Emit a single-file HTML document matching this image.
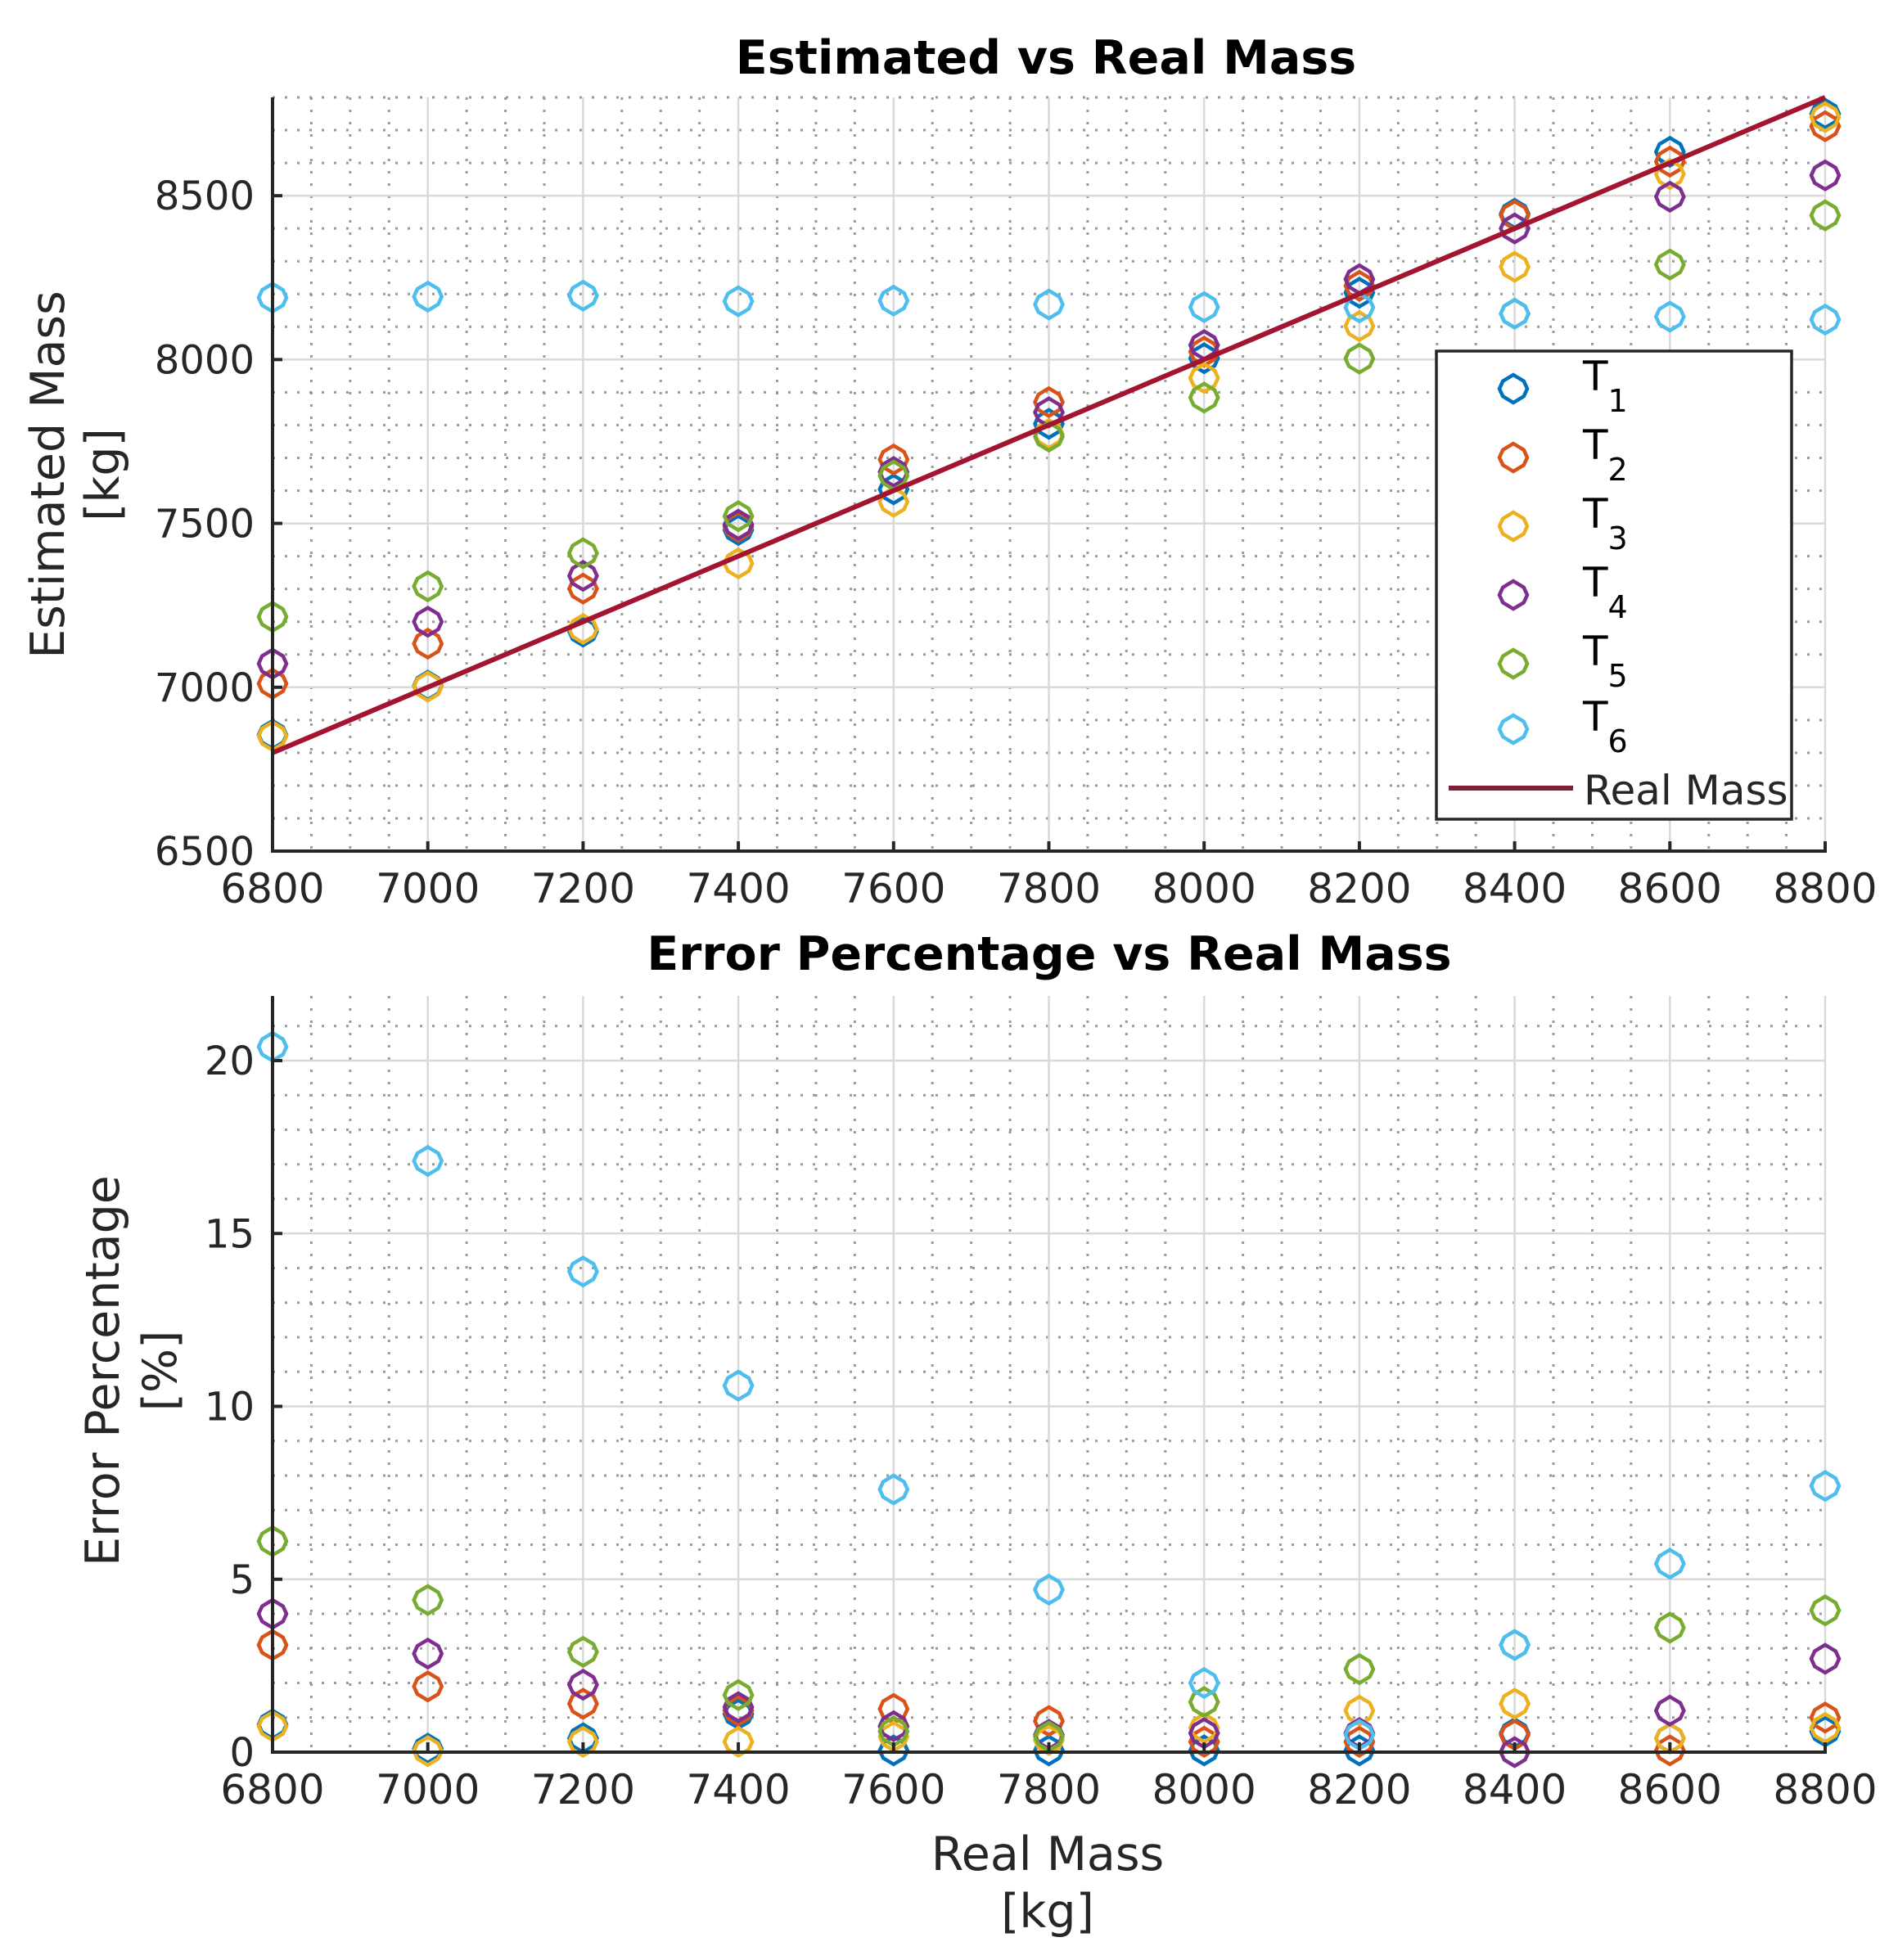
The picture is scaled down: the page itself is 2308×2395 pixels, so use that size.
<!DOCTYPE html>
<html><head><meta charset="utf-8"><style>
html,body{margin:0;padding:0;background:#fff;}
svg{display:block;font-family:"DejaVu Sans","Liberation Sans",sans-serif;}
</style></head><body>
<svg id="c" width="2308" height="2395" viewBox="0 0 2308 2395" xmlns="http://www.w3.org/2000/svg"></svg>
<script>
const masses = [6800,7000,7200,7400,7600,7800,8000,8200,8400,8600,8800];
const seriesNames = ["T1","T2","T3","T4","T5","T6"];
const est1 = [6855,7005,7170,7480,7604,7804,8004,8204,8445,8634,8750];
const est2 = [7011,7133,7301,7490,7695,7870,8024,8225,8440,8604,8712];
const est3 = [6851,7002,7178,7378,7566,7773,7944,8102,8283,8566,8740];
const est4 = [7072,7200,7340,7496,7657,7839,8044,8245,8400,8497,8562];
const est5 = [7215,7308,7409,7522,7646,7765,7884,8003,8140,8290,8440];
const est6 = [8189,8192,8195,8178,8180,8168,8160,8159,8140,8131,8122];
const err1 = [0.8,0.1,0.4,1.1,0.05,0.05,0.05,0.05,0.55,0.4,0.6];
const err2 = [3.1,1.9,1.4,1.2,1.25,0.9,0.3,0.3,0.5,0.05,1.0];
const err3 = [0.75,0.03,0.3,0.3,0.45,0.35,0.7,1.2,1.4,0.4,0.7];
const err4 = [4.0,2.85,1.95,1.3,0.75,0.5,0.55,0.55,0.0,1.2,2.7];
const err5 = [6.1,4.4,2.9,1.65,0.6,0.45,1.45,2.4,3.1,3.6,4.1];
const err6 = [20.4,17.1,13.9,10.6,7.6,4.7,2.0,0.5,3.1,5.45,7.7];
const xTicks = [6800,7000,7200,7400,7600,7800,8000,8200,8400,8600,8800];
const yTicksTop = [6500,7000,7500,8000,8500];
const yTicksBot = [0,5,10,15,20];

const colors = ["#0072BD","#D95319","#EDB120","#7E2F8E","#77AC30","#4DBEEE"];
const estSeries = [est1,est2,est3,est4,est5,est6];
const errSeries = [err1,err2,err3,err4,err5,err6];
const NS = "http://www.w3.org/2000/svg";
const svg = document.getElementById('c');
function mk(tag, attrs, parent){ const e=document.createElementNS(NS,tag); for(const k in attrs) e.setAttribute(k,attrs[k]); (parent||svg).appendChild(e); return e; }

const X0=333, X1=2230;
const xs = v => X0 + (v-6800)/(8800-6800)*(X1-X0);
const topP = {y0:1040, y1:119, min:6500, max:8800};
const botP = {y0:2141, y1:1217, min:0, max:21.87};
const ysT = v => topP.y0 - (v-topP.min)/(topP.max-topP.min)*(topP.y0-topP.y1);
const ysB = v => botP.y0 - (v-botP.min)/(botP.max-botP.min)*(botP.y0-botP.y1);

function grid(ys, P, minorY, majorY, name){
  const g = mk('g',{});
  
  
  for(let v=6800; v<=8800; v+=50){ if(v%200===0) continue;
    mk('line',{x1:xs(v),x2:xs(v),y1:P.y1,y2:P.y0,stroke:"#9a9a9a","stroke-width":3,"stroke-dasharray":"3 12"},g); }
  for(let v=P.min; v<=P.max+1e-9; v+=minorY){ if(Math.abs(v/majorY-Math.round(v/majorY))<1e-6) continue;
    mk('line',{x1:X0,x2:X1,y1:ys(v),y2:ys(v),stroke:"#9a9a9a","stroke-width":3,"stroke-dasharray":"3 12"},g); }
  for(const v of xTicks){ mk('line',{x1:xs(v),x2:xs(v),y1:P.y1,y2:P.y0,stroke:"#d9d9d9","stroke-width":2.5},g); }
  for(let v=P.min; v<=P.max+1e-9; v+=majorY){ mk('line',{x1:X0,x2:X1,y1:ys(v),y2:ys(v),stroke:"#d9d9d9","stroke-width":2.5},g); }
}
function axes(ys, P, yTicks, name){
  const g = mk('g',{});
  
  
  mk('line',{x1:X0,x2:X0,y1:P.y1,y2:P.y0+2,stroke:"#262626","stroke-width":4},g);
  mk('line',{x1:X0-2,x2:X1+2,y1:P.y0,y2:P.y0,stroke:"#262626","stroke-width":4},g);
  for(const v of xTicks){
    mk('line',{x1:xs(v),x2:xs(v),y1:P.y0,y2:P.y0-12,stroke:"#262626","stroke-width":4},g);
    const t=mk('text',{x:xs(v),y:P.y0+63,"text-anchor":"middle","font-size":50,fill:"#262626"},g);
    
    
    t.textContent=v;
  }
  for(const v of yTicks){
    mk('line',{x1:X0,x2:X0+12,y1:ys(v),y2:ys(v),stroke:"#262626","stroke-width":4},g);
    const t=mk('text',{x:X0-22,y:ys(v)+17,"text-anchor":"end","font-size":48,fill:"#262626"},g);
    
    
    t.textContent=v;
  }
}
function marker(x,y,col,parent){
  const r=17;
  const p=mk('polygon',{points:`${x},${y-r} ${x+r*0.75},${y-r*0.55} ${x+r},${y} ${x+r*0.75},${y+r*0.55} ${x},${y+r} ${x-r*0.75},${y+r*0.55} ${x-r},${y} ${x-r*0.75},${y-r*0.55}`,fill:"none",stroke:col,"stroke-width":4.5},parent);
  
  
  return p;
}
function text(x,y,str,size,weight,anchor,name,rot){
  const t=mk('text',{x:x,y:y,"font-size":size,"font-weight":weight||"normal","text-anchor":anchor||"middle",fill:weight==="bold"?"#000":"#262626"});
  if(rot) t.setAttribute('transform',`rotate(-90 ${x} ${y})`);
  
  
  t.textContent=str; return t;
}

// TOP PANEL
grid(ysT, topP, 100, 500, 'top');
const realLine = mk('polyline',{points:masses.map(m=>xs(m)+","+ysT(m)).join(" "),fill:"none",stroke:"#A2142F","stroke-width":6});
estSeries.forEach((s,i)=>{
  const g=mk('g',{});
  
  
  s.forEach((v,j)=>marker(xs(masses[j]),ysT(v),colors[i],g));
});


svg.appendChild(realLine);
axes(ysT, topP, yTicksTop, 'top');
text(1278,90,"Estimated vs Real Mass",57,"bold","middle","top-chart-title");
text(78,580,"Estimated Mass",57,"normal","middle","top-y-axis-title",true);
text(145,580,"[kg]",57,"normal","middle","top-y-axis-unit",true);

// LEGEND
const lg=mk('g',{});


mk('rect',{x:1755,y:429,width:434,height:572,fill:"#fff",stroke:"#262626","stroke-width":3.5},lg);
const rows=[475,559,643,727,811,891];
seriesNames.forEach((n,i)=>{
  const e=mk('g',{},lg);
  
  
  marker(1849,rows[i],colors[i],e);
  const t=mk('text',{x:1934,y:rows[i]+2,"font-size":50,fill:"#000"},e);
  t.textContent="T";
  const s=mk('tspan',{dy:26,"font-size":38},t);
  s.textContent=String(i+1);
});
const le=mk('g',{},lg);


mk('line',{x1:1770,x2:1922,y1:963,y2:963,stroke:"#7E1F33","stroke-width":6},le);
const lt=mk('text',{x:1935,y:983,"font-size":50,fill:"#262626"},le);
lt.textContent="Real Mass";

// BOTTOM PANEL
grid(ysB, botP, 1, 5, 'bottom');
errSeries.forEach((s,i)=>{
  const g=mk('g',{});
  
  
  s.forEach((v,j)=>marker(xs(masses[j]),ysB(v),colors[i],g));
});
axes(ysB, botP, yTicksBot, 'bottom');
text(1282,1185,"Error Percentage vs Real Mass",57,"bold","middle","bottom-chart-title");
text(145,1675,"Error Percentage",57,"normal","middle","bottom-y-axis-title",true);
text(215,1675,"[%]",57,"normal","middle","bottom-y-axis-unit",true);
text(1280,2285,"Real Mass",57,"normal","middle","x-axis-title");
text(1280,2355,"[kg]",57,"normal","middle","x-axis-unit");
</script>
</body></html>
